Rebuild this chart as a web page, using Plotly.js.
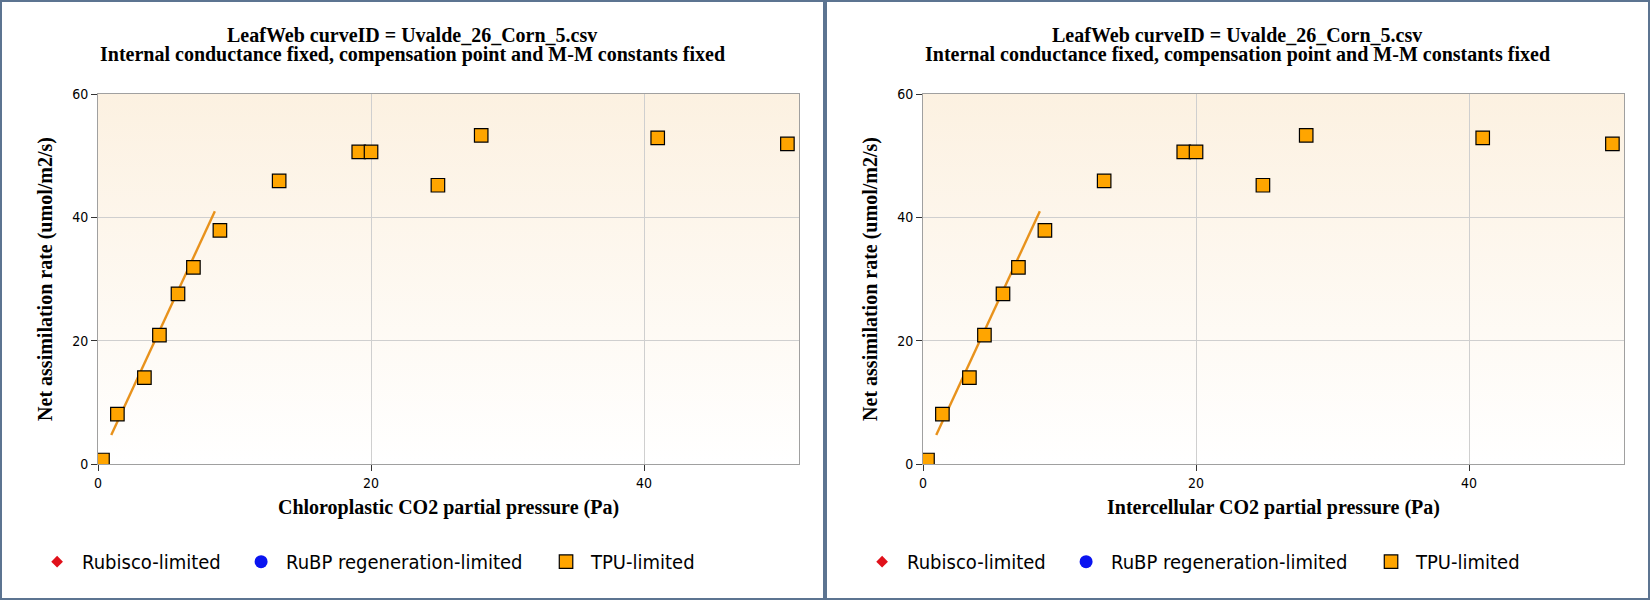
<!DOCTYPE html>
<html>
<head>
<meta charset="utf-8">
<script src="https://cdn.plot.ly/plotly-3.0.1.min.js"></script>
<style>
  html, body { margin: 0; padding: 0; background: #ffffff; overflow: hidden; }
  .panel { position: absolute; top: 0; width: 825px; height: 600px; box-sizing: border-box;
           border: 2px solid #5c7491; background: #ffffff; }
  #left { left: 0; }
  #right { left: 825px; }
</style>
</head>
<body>
<div class="panel" id="left"><div id="plotL"></div></div>
<div class="panel" id="right"><div id="plotR"></div></div>
<script>
// ---- data ----
const chloroplasticCO2 = [0.33, 1.42, 3.4, 4.5, 5.86, 6.99, 8.93, 13.27, 19.1, 20.0, 24.9, 28.07, 41.0, 50.5];
const intercellularCO2 = [0.33, 1.42, 3.4, 4.5, 5.86, 6.99, 8.93, 13.27, 19.1, 20.0, 24.9, 28.07, 41.0, 50.5];
const netAssimilation = [0.65, 8.1, 14.0, 20.9, 27.6, 31.9, 37.9, 45.9, 50.6, 50.6, 45.2, 53.3, 52.9, 51.9];
const modelLineCO2 = [0.97, 8.56];
const modelLineA = [4.7, 41.0];
const rubiscoCO2 = [null];
const rubiscoA = [null];
const rubpCO2 = [null];
const rubpA = [null];
const titleLine1 = 'LeafWeb curveID = Uvalde_26_Corn_5.csv';
const titleLine2 = 'Internal conductance fixed, compensation point and M-M constants fixed';
const yTitle = 'Net assimilation rate (umol/m2/s)';
const xTitleLeft = 'Chloroplastic CO2 partial pressure (Pa)';
const xTitleRight = 'Intercellular CO2 partial pressure (Pa)';
const legendNames = ['Rubisco-limited', 'RuBP regeneration-limited', 'TPU-limited'];

const serif = 'Liberation Serif, Times New Roman, serif';
const sans = 'DejaVu Sans Condensed, DejaVu Sans, sans-serif';

const gradSvg = "<svg xmlns='http://www.w3.org/2000/svg' width='100' height='100' preserveAspectRatio='none'>" +
  "<defs><linearGradient id='g' x1='0' y1='0' x2='0' y2='1'>" +
  "<stop offset='0' stop-color='#fcf1e1'/><stop offset='1' stop-color='#ffffff'/></linearGradient></defs>" +
  "<rect width='100' height='100' fill='url(#g)'/></svg>";
const gradSrc = 'data:image/svg+xml;charset=utf-8,' + encodeURIComponent(gradSvg);

function makePanel(divId, xVals, xTitle) {
  const traces = [
    { x: modelLineCO2, y: modelLineA, mode: 'lines', type: 'scatter', showlegend: false,
      line: { color: '#e8921c', width: 2.4 }, hoverinfo: 'skip' },
    { x: rubiscoCO2, y: rubiscoA, mode: 'markers', type: 'scatter', name: legendNames[0], legend: 'legend',
      marker: { symbol: 'diamond', color: '#e0101a', size: 9 } },
    { x: rubpCO2, y: rubpA, mode: 'markers', type: 'scatter', name: legendNames[1], legend: 'legend2',
      marker: { symbol: 'circle', color: '#0a14f0', size: 13 } },
    { x: xVals, y: netAssimilation, mode: 'markers', type: 'scatter', name: legendNames[2], legend: 'legend3',
      marker: { symbol: 'square', color: '#ffa500', size: 13.5, line: { color: '#000000', width: 1.2 } } }
  ];
  const legBase = { orientation: 'h', xref: 'paper', yref: 'paper', xanchor: 'left', yanchor: 'middle',
    y: -0.264, bgcolor: 'rgba(0,0,0,0)', font: { family: sans, size: 20, color: '#000' }, itemwidth: 40 };
  const axisCommon = {
    showgrid: true, gridcolor: '#cfcfcf', gridwidth: 1, zeroline: false,
    showline: true, linecolor: '#a0a0a0', linewidth: 1, mirror: true,
    ticks: 'outside', ticklen: 6, tickcolor: '#333333', tickwidth: 1,
    tickfont: { family: sans, size: 14, color: '#000' }, automargin: false
  };
  const layout = {
    width: 821, height: 596,
    margin: { l: 96, r: 24, t: 92, b: 134 },
    paper_bgcolor: '#ffffff', plot_bgcolor: 'rgba(0,0,0,0)',
    showlegend: true,
    legend: Object.assign({}, legBase, { x: -0.094 }),
    legend2: Object.assign({}, legBase, { x: 0.197 }),
    legend3: Object.assign({}, legBase, { x: 0.632 }),
    xaxis: Object.assign({}, axisCommon, { range: [0, 51.35], tickvals: [0, 20, 40],
      title: { text: xTitle, standoff: 10, font: { family: serif, size: 20, weight: 'bold', color: '#000' } } }),
    yaxis: Object.assign({}, axisCommon, { range: [0, 60], tickvals: [0, 20, 40, 60],
      title: { text: yTitle, standoff: 14, font: { family: serif, size: 20, weight: 'bold', color: '#000' } } }),
    images: [{ source: gradSrc, xref: 'paper', yref: 'paper', x: 0, y: 1, sizex: 1, sizey: 1,
      xanchor: 'left', yanchor: 'top', sizing: 'stretch', layer: 'below' }],
    annotations: [
      { text: titleLine1, xref: 'paper', yref: 'paper', x: 0.4486, y: 1.1585, xanchor: 'center', yanchor: 'middle',
        showarrow: false, font: { family: serif, size: 20, weight: 'bold', color: '#000' } },
      { text: titleLine2, xref: 'paper', yref: 'paper', x: 0.4486, y: 1.1055, xanchor: 'center', yanchor: 'middle',
        showarrow: false, font: { family: serif, size: 20, weight: 'bold', color: '#000' } }
    ]
  };
  Plotly.newPlot(divId, traces, layout, { displayModeBar: false, staticPlot: true });
}

makePanel('plotL', chloroplasticCO2, xTitleLeft);
makePanel('plotR', intercellularCO2, xTitleRight);
</script>
</body>
</html>
